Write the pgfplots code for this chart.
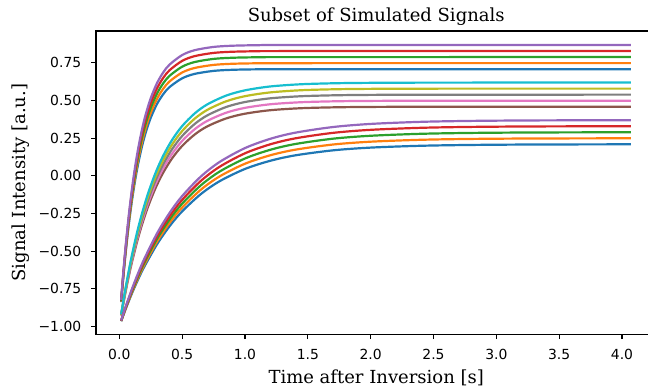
\documentclass[border=0pt]{standalone}
\usepackage{fontspec}
\setmainfont{DejaVu Serif}
\newfontfamily\tickfont{DejaVu Sans}
\usepackage{pgfplots}
\pgfplotsset{compat=1.18}
\definecolor{c0}{HTML}{1F77B4}
\definecolor{c1}{HTML}{FF7F0E}
\definecolor{c2}{HTML}{2CA02C}
\definecolor{c3}{HTML}{D62728}
\definecolor{c4}{HTML}{9467BD}
\definecolor{c5}{HTML}{8C564B}
\definecolor{c6}{HTML}{E377C2}
\definecolor{c7}{HTML}{7F7F7F}
\definecolor{c8}{HTML}{BCBD22}
\definecolor{c9}{HTML}{17BECF}
\begin{document}
\begin{tikzpicture}
\begin{axis}[
  scale only axis, width=560.4pt, height=303.3pt,
  xmin=-0.1854, xmax=4.2736, ymin=-1.051, ymax=0.960,
  axis line style={line width=1.1pt},
  tick align=outside, xtick pos=bottom, ytick pos=left,
  major tick length=4.9pt,
  major tick style={line width=1.1pt, black},
  xtick={0,0.5,1,1.5,2,2.5,3,3.5,4},
  xticklabels={0.0,0.5,1.0,1.5,2.0,2.5,3.0,3.5,4.0},
  ytick={-1,-0.75,-0.5,-0.25,0,0.25,0.5,0.75},
  yticklabels={−1.00,−0.75,−0.50,−0.25,0.00,0.25,0.50,0.75},
  /pgf/number format/assume math mode=true,
  tick label style={font=\tickfont\fontsize{13.9}{13.9}\selectfont},
  xticklabel style={anchor=north, inner sep=0pt, yshift=-10.1pt},
  yticklabel style={anchor=east, inner sep=0pt, xshift=-9.7pt},
  title={Subset of Simulated Signals},
  every axis title/.style={at={(0.5,1)}, anchor=base, yshift=9.5pt, font=\fontsize{18}{18}\selectfont},
  xlabel={Time after Inversion [s]},
  every axis x label/.style={at={(0.5,0)}, anchor=base, yshift=-49.2pt, font=\fontsize{18}{18}\selectfont},
  every axis plot/.append style={line width=2.2pt, no markers, line join=round, smooth, tension=0.5},
]
% fast group
\addplot[c0] coordinates {(0.015,-0.8376)(0.03,-0.6906)(0.05,-0.5161)(0.075,-0.3283)(0.1,-0.1694)(0.125,-0.0349)(0.15,0.0790)(0.18,0.1929)(0.21,0.2861)(0.25,0.3846)(0.3,0.4760)(0.35,0.5415)(0.4,0.5884)(0.5,0.6461)(0.6,0.6757)(0.75,0.6955)(0.9,0.7028)(1.1,0.7059)(1.4,0.7068)(4.07,0.7070)};
\addplot[c1] coordinates {(0.015,-0.8338)(0.03,-0.6833)(0.05,-0.5048)(0.075,-0.3126)(0.1,-0.1499)(0.125,-0.0122)(0.15,0.1043)(0.18,0.2208)(0.21,0.3162)(0.25,0.4170)(0.3,0.5106)(0.35,0.5776)(0.4,0.6256)(0.5,0.6847)(0.6,0.7150)(0.75,0.7352)(0.9,0.7427)(1.1,0.7459)(1.4,0.7468)(4.07,0.7470)};
\addplot[c2] coordinates {(0.015,-0.8299)(0.03,-0.6761)(0.05,-0.4934)(0.075,-0.2969)(0.1,-0.1305)(0.125,0.0104)(0.15,0.1296)(0.18,0.2488)(0.21,0.3463)(0.25,0.4495)(0.3,0.5452)(0.35,0.6137)(0.4,0.6628)(0.5,0.7233)(0.6,0.7543)(0.75,0.7750)(0.9,0.7826)(1.1,0.7858)(1.4,0.7868)(4.07,0.7870)};
\addplot[c3] coordinates {(0.015,-0.8261)(0.03,-0.6688)(0.05,-0.4821)(0.075,-0.2811)(0.1,-0.1110)(0.125,0.0330)(0.15,0.1549)(0.18,0.2767)(0.21,0.3765)(0.25,0.4819)(0.3,0.5797)(0.35,0.6498)(0.4,0.7001)(0.5,0.7618)(0.6,0.7935)(0.75,0.8147)(0.9,0.8225)(1.1,0.8258)(1.4,0.8268)(4.07,0.8270)};
\addplot[c4] coordinates {(0.015,-0.8223)(0.03,-0.6616)(0.05,-0.4708)(0.075,-0.2654)(0.1,-0.0916)(0.125,0.0556)(0.15,0.1802)(0.18,0.3047)(0.21,0.4066)(0.25,0.5144)(0.3,0.6143)(0.35,0.6860)(0.4,0.7373)(0.5,0.8004)(0.6,0.8328)(0.75,0.8544)(0.9,0.8624)(1.1,0.8658)(1.4,0.8668)(4.07,0.8670)};
% middle group
\addplot[c5] coordinates {(0.015,-0.9265)(0.04,-0.8121)(0.07,-0.6873)(0.1,-0.5748)(0.14,-0.4417)(0.18,-0.3258)(0.23,-0.2017)(0.29,-0.0784)(0.35,0.0219)(0.42,0.1154)(0.5,0.1980)(0.6,0.2738)(0.7,0.3276)(0.85,0.3802)(1.0,0.4116)(1.2,0.4347)(1.45,0.4482)(1.75,0.4545)(2.1,0.4570)(2.6,0.4578)(4.07,0.4580)};
\addplot[c6] coordinates {(0.015,-0.9245)(0.04,-0.8070)(0.07,-0.6787)(0.1,-0.5631)(0.14,-0.4264)(0.18,-0.3073)(0.23,-0.1798)(0.29,-0.0531)(0.35,0.0499)(0.42,0.1460)(0.5,0.2309)(0.6,0.3088)(0.7,0.3640)(0.85,0.4181)(1.0,0.4504)(1.2,0.4741)(1.45,0.4879)(1.75,0.4944)(2.1,0.4969)(2.6,0.4978)(4.07,0.4980)};
\addplot[c7] coordinates {(0.015,-0.9225)(0.04,-0.8018)(0.07,-0.6702)(0.1,-0.5514)(0.14,-0.4111)(0.18,-0.2888)(0.23,-0.1579)(0.29,-0.0278)(0.35,0.0779)(0.42,0.1766)(0.5,0.2637)(0.6,0.3437)(0.7,0.4004)(0.85,0.4560)(1.0,0.4891)(1.2,0.5135)(1.45,0.5276)(1.75,0.5343)(2.1,0.5369)(2.6,0.5378)(4.07,0.5380)};
\addplot[c8] coordinates {(0.015,-0.9205)(0.04,-0.7967)(0.07,-0.6616)(0.1,-0.5398)(0.14,-0.3957)(0.18,-0.2703)(0.23,-0.1359)(0.29,-0.0025)(0.35,0.1060)(0.42,0.2072)(0.5,0.2966)(0.6,0.3787)(0.7,0.4369)(0.85,0.4938)(1.0,0.5278)(1.2,0.5528)(1.45,0.5674)(1.75,0.5742)(2.1,0.5769)(2.6,0.5778)(4.07,0.5780)};
\addplot[c9] coordinates {(0.015,-0.9184)(0.04,-0.7915)(0.07,-0.6530)(0.1,-0.5281)(0.14,-0.3804)(0.18,-0.2518)(0.23,-0.1140)(0.29,0.0228)(0.35,0.1340)(0.42,0.2378)(0.5,0.3295)(0.6,0.4136)(0.7,0.4733)(0.85,0.5317)(1.0,0.5665)(1.2,0.5922)(1.45,0.6071)(1.75,0.6141)(2.1,0.6168)(2.6,0.6178)(4.07,0.6180)};
% slow group
\addplot[c0] coordinates {(0.015,-0.9643)(0.05,-0.8849)(0.1,-0.7808)(0.15,-0.6866)(0.2,-0.6014)(0.3,-0.4545)(0.4,-0.3342)(0.5,-0.2358)(0.65,-0.1205)(0.8,-0.0351)(1.0,0.0454)(1.2,0.0993)(1.4,0.1355)(1.7,0.1687)(2.0,0.1869)(2.4,0.1990)(2.8,0.2045)(3.3,0.2074)(4.07,0.2087)};
\addplot[c1] coordinates {(0.015,-0.9631)(0.05,-0.8811)(0.1,-0.7736)(0.15,-0.6763)(0.2,-0.5882)(0.3,-0.4365)(0.4,-0.3122)(0.5,-0.2105)(0.65,-0.0914)(0.8,-0.0032)(1.0,0.0800)(1.2,0.1357)(1.4,0.1730)(1.7,0.2073)(2.0,0.2261)(2.4,0.2387)(2.8,0.2444)(3.3,0.2473)(4.07,0.2486)};
\addplot[c2] coordinates {(0.015,-0.9619)(0.05,-0.8773)(0.1,-0.7663)(0.15,-0.6659)(0.2,-0.5750)(0.3,-0.4184)(0.4,-0.2902)(0.5,-0.1852)(0.65,-0.0623)(0.8,0.0288)(1.0,0.1146)(1.2,0.1721)(1.4,0.2106)(1.7,0.2460)(2.0,0.2654)(2.4,0.2784)(2.8,0.2842)(3.3,0.2872)(4.07,0.2886)};
\addplot[c3] coordinates {(0.015,-0.9607)(0.05,-0.8735)(0.1,-0.7591)(0.15,-0.6555)(0.2,-0.5619)(0.3,-0.4004)(0.4,-0.2682)(0.5,-0.1599)(0.65,-0.0332)(0.8,0.0607)(1.0,0.1491)(1.2,0.2084)(1.4,0.2482)(1.7,0.2846)(2.0,0.3047)(2.4,0.3181)(2.8,0.3241)(3.3,0.3272)(4.07,0.3286)};
\addplot[c4] coordinates {(0.015,-0.9595)(0.05,-0.8697)(0.1,-0.7518)(0.15,-0.6452)(0.2,-0.5487)(0.3,-0.3823)(0.4,-0.2461)(0.5,-0.1346)(0.65,-0.0041)(0.8,0.0926)(1.0,0.1837)(1.2,0.2448)(1.4,0.2858)(1.7,0.3233)(2.0,0.3439)(2.4,0.3577)(2.8,0.3639)(3.3,0.3671)(4.07,0.3686)};
\end{axis}
\node[rotate=90, anchor=base, font=\fontsize{18}{18}\selectfont] at ([xshift=-70pt]current axis.west) {Signal Intensity [a.u.]};
\pgfresetboundingbox
\path[use as bounding box] ([shift={(-96pt,-56.7pt)}]current axis.south west) rectangle ([shift={(552pt,334.3pt)}]current axis.south west);
\end{tikzpicture}
\end{document}
